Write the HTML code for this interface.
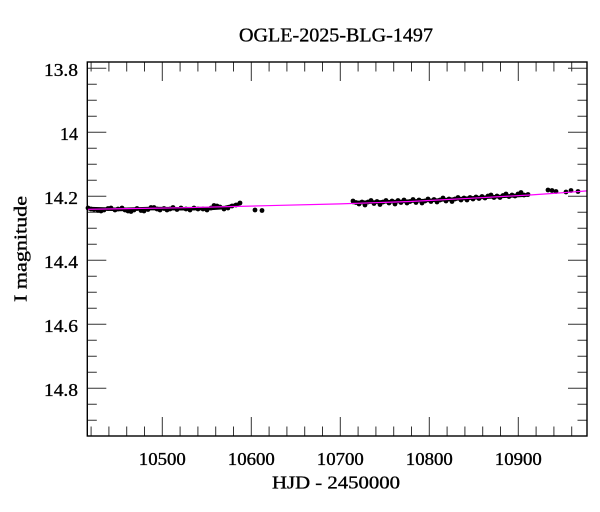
<!DOCTYPE html>
<html>
<head>
<meta charset="utf-8">
<style>
html,body{margin:0;padding:0;background:#fff;}
svg{display:block;}
text{font-family:"Liberation Serif","DejaVu Serif",serif;fill:#000;stroke:#000;stroke-width:0.35;}
</style>
</head>
<body>
<svg width="600" height="512" viewBox="0 0 600 512" xmlns="http://www.w3.org/2000/svg">
<rect x="0" y="0" width="600" height="512" fill="#fff"/>
<!-- title -->
<text x="336" y="41.5" font-size="20" text-anchor="middle" textLength="194" lengthAdjust="spacingAndGlyphs">OGLE-2025-BLG-1497</text>

<!-- ticks -->
<g stroke="#333" stroke-width="1">
  <path d="M91.1,436v-9.5M108.9,436v-9.5M126.7,436v-9.5M144.5,436v-9.5M180.1,436v-9.5M197.9,436v-9.5M215.7,436v-9.5M233.5,436v-9.5M269.1,436v-9.5M286.9,436v-9.5M304.7,436v-9.5M322.5,436v-9.5M358.1,436v-9.5M375.9,436v-9.5M393.7,436v-9.5M411.5,436v-9.5M447.1,436v-9.5M464.9,436v-9.5M482.7,436v-9.5M500.5,436v-9.5M536.1,436v-9.5M553.9,436v-9.5M571.7,436v-9.5"/>
  <path d="M91.1,62v9.5M108.9,62v9.5M126.7,62v9.5M144.5,62v9.5M180.1,62v9.5M197.9,62v9.5M215.7,62v9.5M233.5,62v9.5M269.1,62v9.5M286.9,62v9.5M304.7,62v9.5M322.5,62v9.5M358.1,62v9.5M375.9,62v9.5M393.7,62v9.5M411.5,62v9.5M447.1,62v9.5M464.9,62v9.5M482.7,62v9.5M500.5,62v9.5M536.1,62v9.5M553.9,62v9.5M571.7,62v9.5"/>
  <path d="M162.3,436v-19M251.3,436v-19M340.3,436v-19M429.3,436v-19M518.3,436v-19"/>
  <path d="M162.3,62v19M251.3,62v19M340.3,62v19M429.3,62v19M518.3,62v19"/>
  <path d="M87.3,84.3h9.5M87.3,100.3h9.5M87.3,116.3h9.5M87.3,148.3h9.5M87.3,164.3h9.5M87.3,180.3h9.5M87.3,212.3h9.5M87.3,228.3h9.5M87.3,244.3h9.5M87.3,276.3h9.5M87.3,292.3h9.5M87.3,308.3h9.5M87.3,340.3h9.5M87.3,356.3h9.5M87.3,372.3h9.5M87.3,404.3h9.5M87.3,420.3h9.5"/>
  <path d="M587,84.3h-9.5M587,100.3h-9.5M587,116.3h-9.5M587,148.3h-9.5M587,164.3h-9.5M587,180.3h-9.5M587,212.3h-9.5M587,228.3h-9.5M587,244.3h-9.5M587,276.3h-9.5M587,292.3h-9.5M587,308.3h-9.5M587,340.3h-9.5M587,356.3h-9.5M587,372.3h-9.5M587,404.3h-9.5M587,420.3h-9.5"/>
  <path d="M87.3,68.3h19M87.3,132.3h19M87.3,196.3h19M87.3,260.3h19M87.3,324.3h19M87.3,388.3h19"/>
  <path d="M587,68.3h-19M587,132.3h-19M587,196.3h-19M587,260.3h-19M587,324.3h-19M587,388.3h-19"/>
</g>

<!-- data band -->
<g stroke="#000" stroke-width="3.5" fill="none" stroke-linecap="round">
  <polyline points="88,208.5 120,209.5 150,208.5 180,208.8 210,208.5 225,207.5 236,205 240,203.5"/>
  <polyline points="353,202.5 400,201.5 440,200 470,198 500,196.5 528,195"/>
</g>

<!-- data points -->
<g fill="#000">
  <circle cx="88" cy="208" r="2.4"/><circle cx="91" cy="209" r="2.4"/><circle cx="94" cy="209.5" r="2.4"/>
  <circle cx="98" cy="210.5" r="2.4"/><circle cx="101" cy="211" r="2.4"/><circle cx="104" cy="210" r="2.4"/>
  <circle cx="108" cy="208.5" r="2.4"/><circle cx="111" cy="208" r="2.4"/><circle cx="115" cy="210" r="2.4"/>
  <circle cx="118" cy="209" r="2.4"/><circle cx="122" cy="208" r="2.4"/><circle cx="125" cy="210" r="2.4"/>
  <circle cx="128" cy="211" r="2.4"/><circle cx="131" cy="211.5" r="2.4"/><circle cx="134" cy="210" r="2.4"/>
  <circle cx="137" cy="208.5" r="2.4"/><circle cx="141" cy="210.5" r="2.4"/><circle cx="144" cy="211" r="2.4"/>
  <circle cx="148" cy="209.5" r="2.4"/><circle cx="151" cy="207.5" r="2.4"/><circle cx="154" cy="207.5" r="2.4"/>
  <circle cx="157" cy="209" r="2.4"/><circle cx="160" cy="210" r="2.4"/><circle cx="164" cy="208.5" r="2.4"/>
  <circle cx="167" cy="210" r="2.4"/><circle cx="170" cy="209" r="2.4"/><circle cx="173" cy="207.5" r="2.4"/>
  <circle cx="177" cy="209.5" r="2.4"/><circle cx="181" cy="208" r="2.4"/><circle cx="186" cy="209" r="2.4"/>
  <circle cx="190" cy="210" r="2.4"/><circle cx="194" cy="208" r="2.4"/><circle cx="198" cy="209" r="2.4"/>
  <circle cx="203" cy="209" r="2.4"/><circle cx="207" cy="210" r="2.4"/><circle cx="211" cy="208" r="2.4"/>
  <circle cx="214" cy="205.5" r="2.4"/><circle cx="217" cy="206" r="2.4"/><circle cx="220" cy="207" r="2.4"/>
  <circle cx="224" cy="209" r="2.4"/><circle cx="228" cy="208" r="2.4"/><circle cx="232" cy="206" r="2.4"/>
  <circle cx="236" cy="205" r="2.4"/><circle cx="240" cy="203" r="2.4"/>
  <circle cx="255" cy="210" r="2.4"/><circle cx="262" cy="210.5" r="2.4"/>

  <circle cx="353" cy="201" r="2.4"/><circle cx="356" cy="202.5" r="2.4"/><circle cx="359" cy="204" r="2.4"/>
  <circle cx="362" cy="202" r="2.4"/><circle cx="365" cy="205" r="2.4"/><circle cx="368" cy="202" r="2.4"/>
  <circle cx="371" cy="200.5" r="2.4"/><circle cx="374" cy="203.5" r="2.4"/><circle cx="377" cy="201.5" r="2.4"/>
  <circle cx="380" cy="204.5" r="2.4"/><circle cx="383" cy="202" r="2.4"/><circle cx="386" cy="200.5" r="2.4"/>
  <circle cx="389" cy="203" r="2.4"/><circle cx="392" cy="201" r="2.4"/><circle cx="395" cy="204" r="2.4"/>
  <circle cx="398" cy="200.5" r="2.4"/><circle cx="401" cy="202.5" r="2.4"/><circle cx="404" cy="200" r="2.4"/>
  <circle cx="407" cy="203" r="2.4"/><circle cx="410" cy="201.5" r="2.4"/><circle cx="413" cy="199.5" r="2.4"/>
  <circle cx="416" cy="202.5" r="2.4"/><circle cx="419" cy="200" r="2.4"/><circle cx="422" cy="203" r="2.4"/>
  <circle cx="425" cy="201" r="2.4"/><circle cx="428" cy="199" r="2.4"/><circle cx="431" cy="201.5" r="2.4"/>
  <circle cx="434" cy="199.5" r="2.4"/><circle cx="437" cy="202" r="2.4"/><circle cx="440" cy="200" r="2.4"/>
  <circle cx="443" cy="198" r="2.4"/><circle cx="446" cy="201" r="2.4"/><circle cx="449" cy="199" r="2.4"/>
  <circle cx="452" cy="201.5" r="2.4"/><circle cx="455" cy="199" r="2.4"/><circle cx="458" cy="197.5" r="2.4"/>
  <circle cx="461" cy="200" r="2.4"/><circle cx="464" cy="198" r="2.4"/><circle cx="467" cy="200" r="2.4"/>
  <circle cx="470" cy="197.5" r="2.4"/><circle cx="473" cy="199" r="2.4"/><circle cx="476" cy="197" r="2.4"/>
  <circle cx="479" cy="198.5" r="2.4"/><circle cx="482" cy="196.5" r="2.4"/><circle cx="485" cy="198" r="2.4"/>
  <circle cx="488" cy="196" r="2.4"/><circle cx="491" cy="195" r="2.4"/><circle cx="494" cy="197.5" r="2.4"/>
  <circle cx="497" cy="196" r="2.4"/><circle cx="500" cy="197.5" r="2.4"/><circle cx="503" cy="195.5" r="2.4"/>
  <circle cx="506" cy="194" r="2.4"/><circle cx="509" cy="196.5" r="2.4"/><circle cx="512" cy="195" r="2.4"/>
  <circle cx="515" cy="196" r="2.4"/><circle cx="518" cy="194" r="2.4"/><circle cx="521" cy="192.5" r="2.4"/>
  <circle cx="524" cy="195" r="2.4"/><circle cx="528" cy="194.5" r="2.4"/>

  <circle cx="548" cy="190" r="2.4"/><circle cx="552" cy="190.5" r="2.4"/><circle cx="556" cy="191.5" r="2.4"/>
  <circle cx="566" cy="192" r="2.4"/><circle cx="571" cy="190.5" r="2.4"/><circle cx="578" cy="191.5" r="2.4"/>
</g>

<!-- model line -->
<polyline points="87.3,209.3 180,207.8 266,205.7 340,203.9 410,201.5 470,198.3 530,195 550,193.6 570,192.2 587,190.9" fill="none" stroke="#ff00ff" stroke-width="1.2"/>

<!-- frame -->
<rect x="87.3" y="62" width="499.7" height="374" fill="none" stroke="#000" stroke-width="1.4"/>

<!-- y tick labels -->
<g font-size="18" text-anchor="end">
  <text x="78" y="76" textLength="34" lengthAdjust="spacingAndGlyphs">13.8</text>
  <text x="78" y="140">14</text>
  <text x="78" y="204" textLength="34" lengthAdjust="spacingAndGlyphs">14.2</text>
  <text x="78" y="268" textLength="34" lengthAdjust="spacingAndGlyphs">14.4</text>
  <text x="78" y="332" textLength="34" lengthAdjust="spacingAndGlyphs">14.6</text>
  <text x="78" y="396" textLength="34" lengthAdjust="spacingAndGlyphs">14.8</text>
</g>

<!-- x tick labels -->
<g font-size="18" text-anchor="middle">
  <text x="162.3" y="465" textLength="47" lengthAdjust="spacingAndGlyphs">10500</text>
  <text x="251.3" y="465" textLength="47" lengthAdjust="spacingAndGlyphs">10600</text>
  <text x="340.3" y="465" textLength="47" lengthAdjust="spacingAndGlyphs">10700</text>
  <text x="429.3" y="465" textLength="47" lengthAdjust="spacingAndGlyphs">10800</text>
  <text x="518.3" y="465" textLength="47" lengthAdjust="spacingAndGlyphs">10900</text>
</g>

<!-- axis labels -->
<text x="336" y="488.3" font-size="18" text-anchor="middle" textLength="128" lengthAdjust="spacingAndGlyphs">HJD - 2450000</text>
<text transform="translate(26.5,249) rotate(-90)" x="0" y="0" font-size="18" text-anchor="middle" textLength="106" lengthAdjust="spacingAndGlyphs">I magnitude</text>
</svg>
</body>
</html>
